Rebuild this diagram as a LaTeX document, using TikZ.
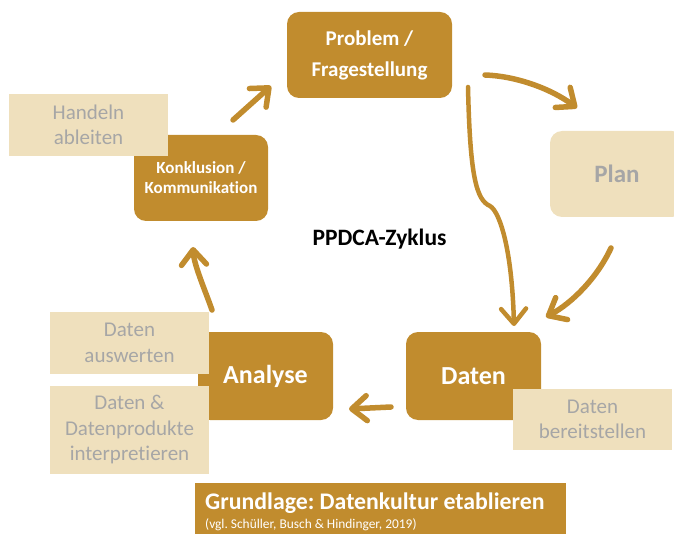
\documentclass[tikz,border=0pt]{standalone}
\usepackage{fontspec}
\setmainfont[Ligatures=NoCommon]{Carlito}
\usetikzlibrary{arrows.meta}
\definecolor{gold}{RGB}{193,140,46}
\definecolor{lightgold}{RGB}{239,224,189}
\definecolor{txtgray}{RGB}{166,166,166}
\frenchspacing
\begin{document}
\begin{tikzpicture}[x=1pt,y=-1pt,
  mainbox/.style={fill=gold, rounded corners=12pt, text=white, align=center, inner sep=0pt},
  notebox/.style={fill=lightgold, text=txtgray, align=center, inner sep=0pt, font=\fontsize{21}{25.5}\selectfont},
  flow/.style={draw=gold, line width=5.5pt, line cap=round, -{Straight Barb[round,length=15pt,width=25pt]}}
]
\useasboundingbox (0,0) rectangle (674,534);
\clip (0,0) rectangle (674,534);

% main boxes
\node[mainbox, minimum width=165pt, minimum height=86pt, font=\fontsize{21}{31}\selectfont\bfseries] (problem) at (369.5,55) {Problem /\\Fragestellung};
\node[mainbox, minimum width=134pt, minimum height=86pt, font=\fontsize{17}{20}\selectfont\bfseries] (konk) at (201,178) {Konklusion /\\Kommunikation};
\node[mainbox, fill=lightgold, text=txtgray, minimum width=134pt, minimum height=86pt, font=\fontsize{25}{30}\selectfont\bfseries] (plan) at (617,174) {Plan};
\node[mainbox, minimum width=135pt, minimum height=88pt, font=\fontsize{26}{30}\selectfont\bfseries] (daten) at (473.5,376) {Daten};
\node[mainbox, minimum width=135pt, minimum height=88pt, font=\fontsize{26}{30}\selectfont\bfseries] (analyse) at (265.5,376) {Analyse};

% note boxes
\node[notebox, minimum width=159pt, minimum height=62pt] (handeln) at (88.5,125) {Handeln\\ableiten};
\node[notebox, minimum width=159pt, minimum height=61pt] (bereit) at (592.5,419.5) {Daten\\bereitstellen};
\node[notebox, minimum width=159pt, minimum height=62pt] (auswerten) at (129.5,343) {Daten\\auswerten};
\node[notebox, minimum width=159pt, minimum height=88pt] (interpret) at (129.5,430) {Daten \&\\Datenprodukte\\interpretieren};

% centre title
\node[anchor=base, font=\fontsize{23.5}{27}\selectfont\bfseries, inner sep=0pt] (zyklus) at (379.5,246) {PPDCA-Zyklus};

% foundation bar
\node[fill=gold, anchor=north west, minimum width=371pt, minimum height=60pt, inner sep=0pt] (grund) at (195,483) {};
\node[anchor=base west, text=white, inner sep=0pt, font=\fontsize{23.8}{28}\selectfont\bfseries] (grundtitel) at (205,509) {Grundlage: Datenkultur etablieren};
\node[anchor=base west, text=white, inner sep=0pt, font=\fontsize{13.4}{15}\selectfont] (grundref) at (205,528) {(vgl. Schüller, Busch \& Hindinger, 2019)};

% arrow end points
\coordinate (a1s) at (233,120); \coordinate (a1e) at (271,86);
\coordinate (a2s) at (485,75);  \coordinate (a2e) at (577,108);
\coordinate (a3s) at (468,87);  \coordinate (a3m) at (490,206); \coordinate (a3e) at (514,326);
\coordinate (a4s) at (611,248); \coordinate (a4e) at (546,317);
\coordinate (a5s) at (391,407); \coordinate (a5e) at (349,409);
\coordinate (a6s) at (212,310); \coordinate (a6e) at (193,247);

\draw[flow] (a1s) -- (a1e);
\draw[flow] (a2s) .. controls (515,76) and (550,88) .. (a2e);
\draw[flow, line width=4.5pt] (a3s) .. controls (470,175) and (476,200) .. (a3m) .. controls (500,212) and (512,250) .. (a3e);
\draw[flow] (a4s) .. controls (597,278) and (572,303) .. (a4e);
\draw[flow] (a5s) -- (a5e);
\draw[flow] (a6s) .. controls (205,290) and (194,265) .. (a6e);
\end{tikzpicture}
\end{document}
